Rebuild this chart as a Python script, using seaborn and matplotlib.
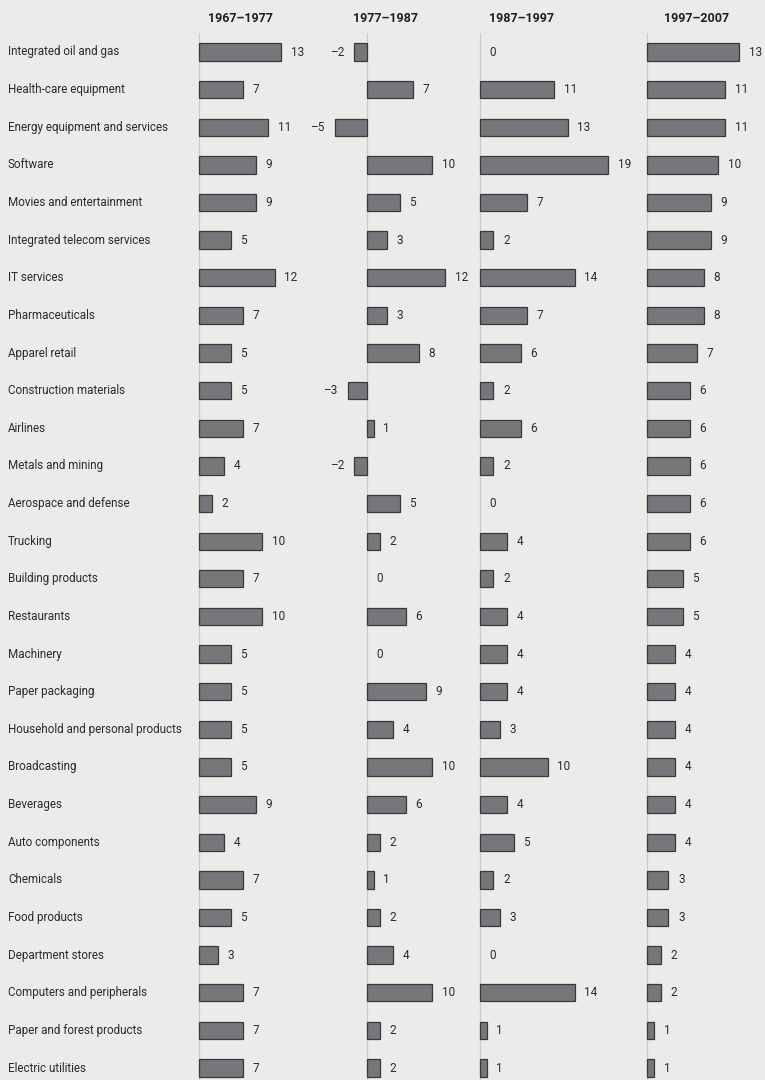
import numpy as np
import pandas as pd
import matplotlib
matplotlib.use("Agg")
import matplotlib.pyplot as plt
import matplotlib.transforms as mtransforms
import seaborn as sns

industries = [
    "Integrated oil and gas", "Health-care equipment", "Energy equipment and services",
    "Software", "Movies and entertainment", "Integrated telecom services", "IT services",
    "Pharmaceuticals", "Apparel retail", "Construction materials", "Airlines",
    "Metals and mining", "Aerospace and defense", "Trucking", "Building products",
    "Restaurants", "Machinery", "Paper packaging", "Household and personal products",
    "Broadcasting", "Beverages", "Auto components", "Chemicals", "Food products",
    "Department stores", "Computers and peripherals", "Paper and forest products",
    "Electric utilities",
]

periods = ["1967\u20131977", "1977\u20131987", "1987\u20131997", "1997\u20132007"]

p1967 = [13, 7, 11, 9, 9, 5, 12, 7, 5, 5, 7, 4, 2, 10, 7, 10, 5, 5, 5, 5, 9, 4, 7, 5, 3, 7, 7, 7]
p1977 = [-2, 7, -5, 10, 5, 3, 12, 3, 8, -3, 1, -2, 5, 2, 0, 6, 0, 9, 4, 10, 6, 2, 1, 2, 4, 10, 2, 2]
p1987 = [0, 11, 13, 19, 7, 2, 14, 7, 6, 2, 6, 2, 0, 4, 2, 4, 4, 4, 3, 10, 4, 5, 2, 3, 0, 14, 1, 1]
p1997 = [13, 11, 11, 10, 9, 9, 8, 8, 7, 6, 6, 6, 6, 6, 5, 5, 4, 4, 4, 4, 4, 4, 3, 3, 2, 2, 1, 1]

series = [p1967, p1977, p1987, p1997]

sns.set_style("white")
plt.rcParams['font.family'] = ['Roboto', 'DejaVu Sans']

W, H = 765, 1080
bg = "#ebebe9"
bar_color = "#75777b"
text_color = "#2b2b2b"

# pixel layout of each panel: zero line x, pixels per unit, header x
zeros = [199, 367, 480, 647]
scales = [6.3, 6.5, 6.75, 7.1]
header_x = [240, 386, 522, 697]

# rows: first at y=52, last at y=1068 (pixels from top)
row_top, row_bot = 52, 1068
step = (row_bot - row_top) / (len(industries) - 1)
ax_top_px = row_top - 0.5 * step
ylim = (len(industries) - 1 + (H - row_bot) / step, -0.5)

fig = plt.figure(figsize=(W / 100, H / 100), dpi=100)
fig.patch.set_facecolor(bg)

lo, hi = -6, 21
for i in range(4):
    s = scales[i]
    left = (zeros[i] + lo * s) / W
    width = (hi - lo) * s / W
    ax = fig.add_axes([left, 0, width, (H - ax_top_px) / H])
    ax.set_facecolor("none")

    df = pd.DataFrame({"industry": industries, "value": series[i]})
    ax.axvline(0, color="#cbcbc9", lw=0.9, zorder=0)
    sns.barplot(data=df, x="value", y="industry", orient="h", ax=ax,
                color=bar_color, width=0.46, edgecolor="#38383a", linewidth=0.9,
                saturation=1, zorder=2)

    # zero values get no visible bar
    for patch in ax.containers[0]:
        if patch.get_width() == 0:
            patch.set_linewidth(0)

    labels = [f"\u2013{abs(v)}" if v < 0 else str(v) for v in series[i]]
    ax.bar_label(ax.containers[0], labels=labels, padding=7, fontsize=8.5,
                 color=text_color)

    ax.set_xlim(lo, hi)
    ax.set_ylim(*ylim)
    ax.set_xlabel("")
    ax.set_ylabel("")
    ax.set_xticks([])
    ax.set_yticks([])
    sns.despine(ax=ax, left=True, bottom=True)

    fig.text(header_x[i] / W, 1 - 18 / H, periods[i], ha="center", va="center",
             fontsize=9, fontweight="bold", color="#1e1e1e")

    # industry names down the left side
    if i == 0:
        trans = mtransforms.blended_transform_factory(fig.transFigure, ax.transData)
        for k, name in enumerate(industries):
            ax.text(8 / W, k, name, transform=trans, ha="left", va="center",
                    fontsize=8.4, color=text_color)

fig.savefig("out.png", dpi=100, facecolor=bg)
